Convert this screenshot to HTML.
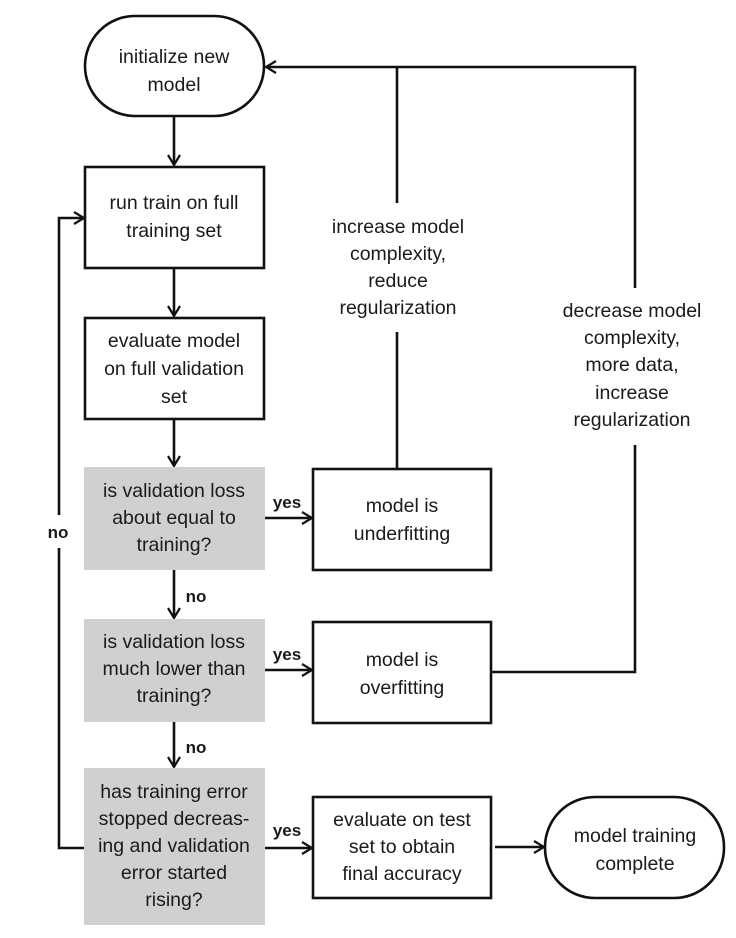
<!DOCTYPE html>
<html><head><meta charset="utf-8"><style>
html,body{margin:0;padding:0;background:#fff}
svg{display:block}
text{font-family:"Liberation Sans",sans-serif;font-size:19.5px;fill:#1a1a1a;text-anchor:middle}
.b{font-weight:bold;font-size:17px}
</style></head><body>
<svg width="736" height="938" viewBox="0 0 736 938" xmlns="http://www.w3.org/2000/svg">
<defs>
<marker id="a" markerWidth="12" markerHeight="14" refX="11" refY="7" orient="auto" markerUnits="userSpaceOnUse">
<path d="M1,1 L11,7 L1,13" fill="none" stroke="#111" stroke-width="2.2"/>
</marker>
</defs>
<g fill="none" stroke="#111" stroke-width="2.6">
<rect x="85" y="16" width="179" height="100" rx="50"/>
<rect x="85" y="167" width="179" height="101"/>
<rect x="85" y="318" width="179" height="101"/>
<rect x="313" y="469" width="178" height="101"/>
<rect x="313" y="622" width="178" height="101"/>
<rect x="313" y="797" width="178" height="101"/>
<rect x="545" y="797" width="179" height="101" rx="50"/>
</g>
<g fill="#d0d0d0">
<rect x="84" y="467" width="181" height="103"/>
<rect x="84" y="619" width="181" height="103"/>
<rect x="84" y="768" width="181" height="157"/>
</g>
<g fill="none" stroke="#111" stroke-width="2.6">
<path d="M174,116 V165" marker-end="url(#a)"/>
<path d="M174,268 V316" marker-end="url(#a)"/>
<path d="M174,419 V466" marker-end="url(#a)"/>
<path d="M174,570 V618" marker-end="url(#a)"/>
<path d="M174,722 V767" marker-end="url(#a)"/>
<path d="M265,518 H312" marker-end="url(#a)"/>
<path d="M265,670 H312" marker-end="url(#a)"/>
<path d="M265,848 H312" marker-end="url(#a)"/>
<path d="M495,847 H544" marker-end="url(#a)"/>
<path d="M84,848 H59 V548"/>
<path d="M59,515 V218 H84" marker-end="url(#a)"/>
<path d="M397,468 V332"/>
<path d="M397,203 V67"/>
<path d="M491,672 H635 V445"/>
<path d="M635,288 V67 H266" marker-end="url(#a)"/>
</g>
<text x="174" y="63">initialize new</text>
<text x="174" y="91">model</text>
<text x="174" y="209">run train on full</text>
<text x="174" y="237">training set</text>
<text x="174" y="347">evaluate model</text>
<text x="174" y="375">on full validation</text>
<text x="174" y="403">set</text>
<text x="174" y="497">is validation loss</text>
<text x="174" y="524">about equal to</text>
<text x="174" y="551">training?</text>
<text x="174" y="648">is validation loss</text>
<text x="174" y="675">much lower than</text>
<text x="174" y="702">training?</text>
<text x="174" y="798">has training error</text>
<text x="174" y="825">stopped decreas-</text>
<text x="174" y="852">ing and validation</text>
<text x="174" y="879">error started</text>
<text x="174" y="906">rising?</text>
<text x="402" y="512">model is</text>
<text x="402" y="540">underfitting</text>
<text x="402" y="666">model is</text>
<text x="402" y="694">overfitting</text>
<text x="402" y="826">evaluate on test</text>
<text x="402" y="853">set to obtain</text>
<text x="402" y="880">final accuracy</text>
<text x="635" y="842">model training</text>
<text x="635" y="870">complete</text>
<text x="398" y="233">increase model</text>
<text x="398" y="260">complexity,</text>
<text x="398" y="287">reduce</text>
<text x="398" y="314">regularization</text>
<text x="632" y="317">decrease model</text>
<text x="632" y="344">complexity,</text>
<text x="632" y="371">more data,</text>
<text x="632" y="399">increase</text>
<text x="632" y="426">regularization</text>
<text class="b" x="287" y="508">yes</text>
<text class="b" x="287" y="660">yes</text>
<text class="b" x="287" y="836">yes</text>
<text class="b" x="196" y="602">no</text>
<text class="b" x="196" y="753">no</text>
<text class="b" x="58" y="538">no</text>
</svg>
</body></html>
